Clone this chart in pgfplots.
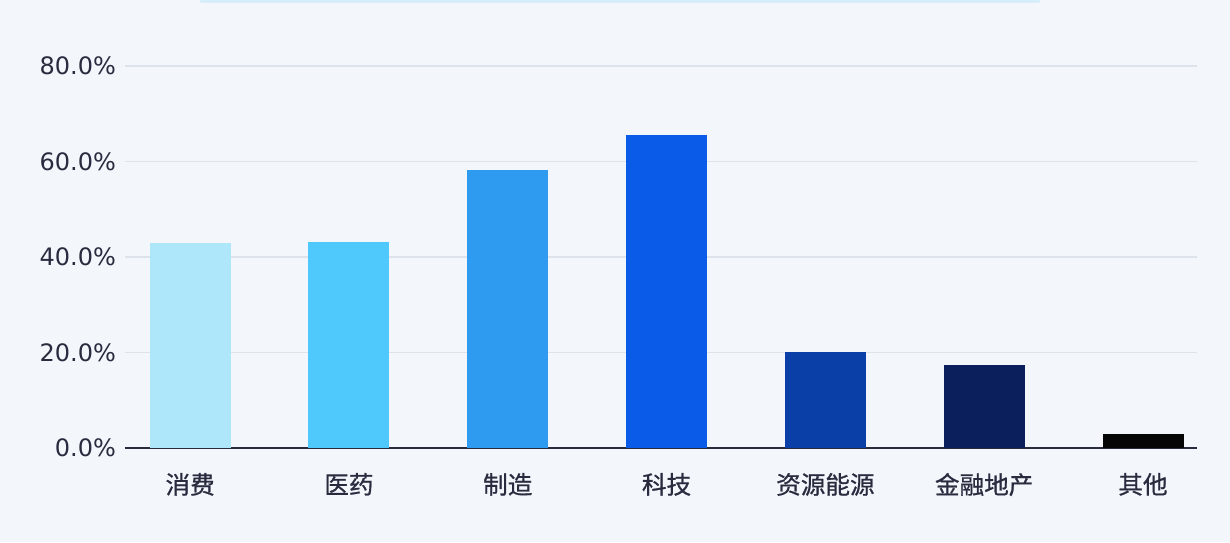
\documentclass[border=0pt]{standalone}
\usepackage{pgfplots}
\pgfplotsset{compat=1.18}
\usepackage{fontspec}
\setmainfont{DejaVu Sans}
\newfontfamily\cjk{Noto Sans CJK SC}[FakeBold=0.8]

\definecolor{bg}{HTML}{F3F7FC}
\definecolor{topline}{HTML}{D6EEFA}
\definecolor{gridc}{HTML}{DCE3EB}
\definecolor{txt}{HTML}{2B2B3F}
\definecolor{c1}{HTML}{AEE6FA}
\definecolor{c2}{HTML}{4FC8FB}
\definecolor{c3}{HTML}{2E9BF0}
\definecolor{c4}{HTML}{0A5CE8}
\definecolor{c5}{HTML}{0A3FA8}
\definecolor{c6}{HTML}{0A1F5C}
\definecolor{c7}{HTML}{050505}

\begin{document}
\begin{tikzpicture}
  % background panel, 1px = 0.5pt
  \fill[bg] (-62.5pt,-47pt) rectangle (552.5pt,224pt);
  \fill[topline, rounded corners=1pt] (37.5pt,222.5pt) rectangle (457.5pt,226pt);

  \begin{axis}[
      at={(0,0)}, anchor=south west,
      scale only axis, width=536pt, height=191pt,
      xmin=-0.41, xmax=6.34, ymin=0, ymax=80,
      ybar, bar width=40.5pt, bar shift=0pt,
      axis lines*=left,
      y axis line style={draw=none},
      x axis line style={color=txt, line width=1pt},
      major tick length=0pt,
      ytick={0,20,40,60,80},
      ymajorgrids, grid style={color=gridc, line width=0.6pt},
      /pgf/number format/assume math mode=true,
      yticklabel={\pgfmathprintnumber[fixed,fixed zerofill,precision=1]{\tick}\%},
      yticklabel style={font=\fontsize{12}{14}\selectfont, color=txt, xshift=-1pt},
      xtick={0,1,2,3,4,5,6},
      xticklabels={消费, 医药, 制造, 科技, 资源能源, 金融地产, 其他},
      xticklabel style={font=\cjk\fontsize{12.3}{14}\selectfont, color=txt, yshift=-9pt},
    ]
    \addplot[fill=c1, draw=none] coordinates {(0,42.9)};
    \addplot[fill=c2, draw=none] coordinates {(1,43.1)};
    \addplot[fill=c3, draw=none] coordinates {(2,58.2)};
    \addplot[fill=c4, draw=none] coordinates {(3,65.5)};
    \addplot[fill=c5, draw=none] coordinates {(4,20.1)};
    \addplot[fill=c6, draw=none] coordinates {(5,17.4)};
    \addplot[fill=c7, draw=none] coordinates {(6,2.9)};
  \end{axis}

  \pgfresetboundingbox
  \useasboundingbox (-62.5pt,-47pt) rectangle (552.5pt,224pt);
\end{tikzpicture}
\end{document}
